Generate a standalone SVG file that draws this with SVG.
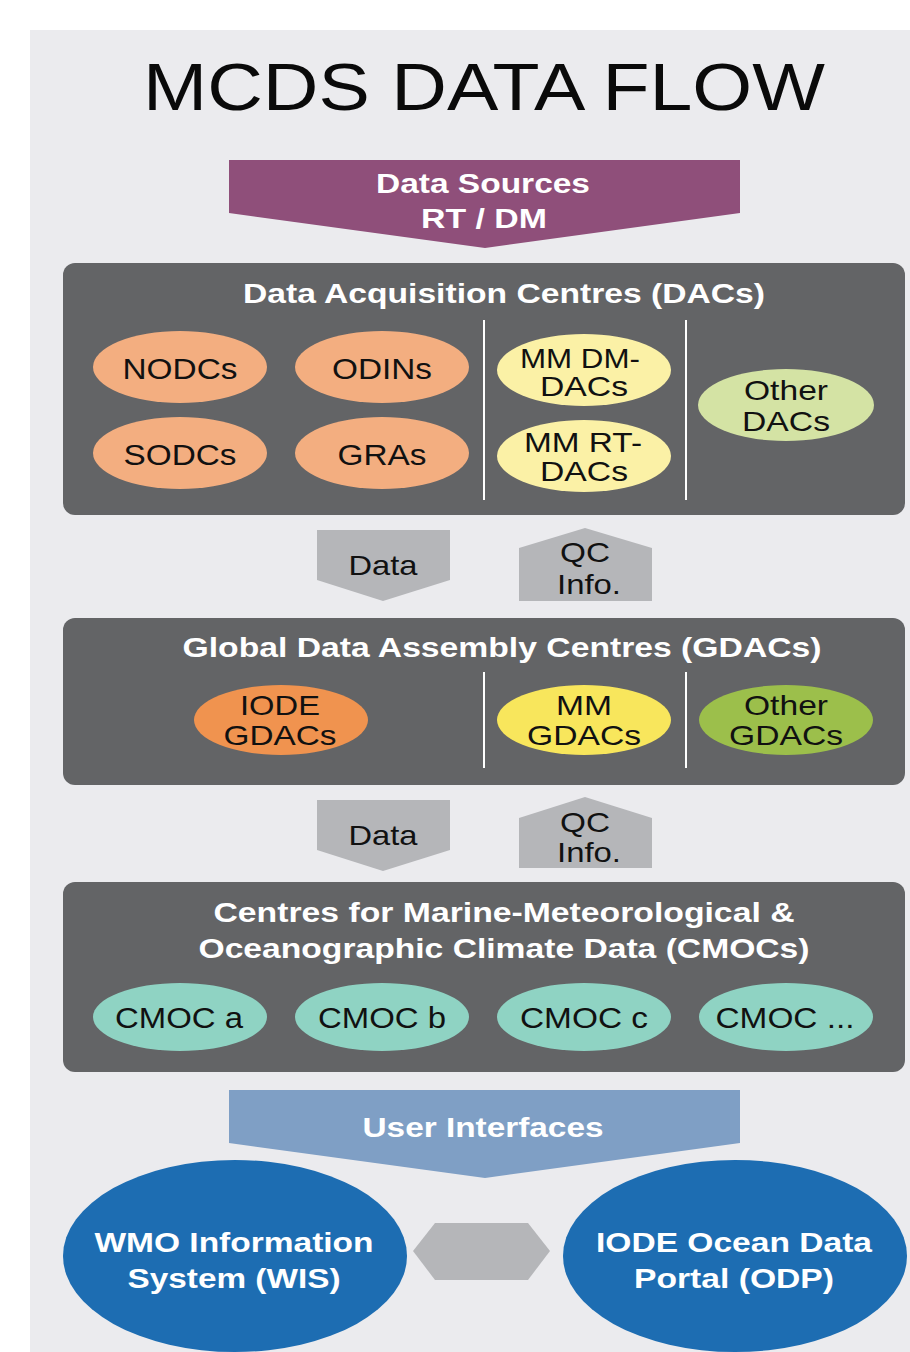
<svg xmlns="http://www.w3.org/2000/svg" width="910" height="1352" viewBox="0 0 910 1352">
<style>
.t{font-family:"Liberation Sans",Arial,sans-serif;text-anchor:middle}
.w{fill:#ffffff;font-weight:bold}
.b{fill:#111111}
.box{fill:#636466}
.sep{stroke:#ffffff;stroke-width:2}
.gr{fill:#b5b6b9}
</style>
<rect x="0" y="0" width="910" height="1352" fill="#ffffff"/>
<rect x="30" y="30" width="880" height="1322" fill="#ebebee"/>
<text class="t" x="484" y="110" font-size="66" fill="#0a0a0a" textLength="682" lengthAdjust="spacingAndGlyphs">MCDS DATA FLOW</text>

<g id="data-sources">
<path d="M229,160 H740 V213 L485,248 L229,213 Z" fill="#8f4f7a"/>
<text class="t w" x="483" y="193" font-size="27" textLength="214" lengthAdjust="spacingAndGlyphs">Data Sources</text>
<text class="t w" x="484" y="228" font-size="27" textLength="126" lengthAdjust="spacingAndGlyphs">RT / DM</text>
</g>

<g id="dacs">
<rect class="box" x="63" y="263" width="842" height="252" rx="12"/>
<text class="t w" x="504" y="303" font-size="28" textLength="522" lengthAdjust="spacingAndGlyphs">Data Acquisition Centres (DACs)</text>
<line class="sep" x1="484" y1="320" x2="484" y2="500"/>
<line class="sep" x1="686" y1="320" x2="686" y2="500"/>
</g>
<g id="nodcs"><ellipse cx="180" cy="367" rx="87" ry="36" fill="#f3ae80"/><text class="t b" x="180" y="379" font-size="29" textLength="115" lengthAdjust="spacingAndGlyphs">NODCs</text></g>
<g id="odins"><ellipse cx="382" cy="367" rx="87" ry="36" fill="#f3ae80"/><text class="t b" x="382" y="379" font-size="29" textLength="100" lengthAdjust="spacingAndGlyphs">ODINs</text></g>
<g id="sodcs"><ellipse cx="180" cy="453" rx="87" ry="36" fill="#f3ae80"/><text class="t b" x="180" y="465" font-size="29" textLength="113" lengthAdjust="spacingAndGlyphs">SODCs</text></g>
<g id="gras"><ellipse cx="382" cy="453" rx="87" ry="36" fill="#f3ae80"/><text class="t b" x="382" y="465" font-size="29" textLength="89" lengthAdjust="spacingAndGlyphs">GRAs</text></g>
<g id="mm-dm-dacs"><ellipse cx="584" cy="370" rx="87" ry="36" fill="#fbf1a6"/><text class="t b" x="580" y="368" font-size="28" textLength="120" lengthAdjust="spacingAndGlyphs">MM DM-</text><text class="t b" x="584" y="396" font-size="28" textLength="88" lengthAdjust="spacingAndGlyphs">DACs</text></g>
<g id="mm-rt-dacs"><ellipse cx="584" cy="456" rx="87" ry="36" fill="#fbf1a6"/><text class="t b" x="583" y="452" font-size="28" textLength="118" lengthAdjust="spacingAndGlyphs">MM RT-</text><text class="t b" x="584" y="481" font-size="28" textLength="88" lengthAdjust="spacingAndGlyphs">DACs</text></g>
<g id="other-dacs"><ellipse cx="786" cy="405" rx="88" ry="36" fill="#d4e3a4"/><text class="t b" x="786" y="400" font-size="28" textLength="84" lengthAdjust="spacingAndGlyphs">Other</text><text class="t b" x="786" y="431" font-size="28" textLength="88" lengthAdjust="spacingAndGlyphs">DACs</text></g>

<g id="gdacs">
<rect class="box" x="63" y="618" width="842" height="167" rx="12"/>
<text class="t w" x="502" y="657" font-size="28" textLength="639" lengthAdjust="spacingAndGlyphs">Global Data Assembly Centres (GDACs)</text>
<line class="sep" x1="484" y1="672" x2="484" y2="768"/>
<line class="sep" x1="686" y1="672" x2="686" y2="768"/>
</g>
<g id="iode-gdacs"><ellipse cx="281" cy="720" rx="87" ry="35" fill="#f0934f"/><text class="t b" x="280" y="715" font-size="28" textLength="80" lengthAdjust="spacingAndGlyphs">IODE</text><text class="t b" x="280" y="745" font-size="28" textLength="113" lengthAdjust="spacingAndGlyphs">GDACs</text></g>
<g id="mm-gdacs"><ellipse cx="584" cy="720" rx="87" ry="35" fill="#f8e65c"/><text class="t b" x="584" y="715" font-size="28" textLength="56" lengthAdjust="spacingAndGlyphs">MM</text><text class="t b" x="584" y="745" font-size="28" textLength="114" lengthAdjust="spacingAndGlyphs">GDACs</text></g>
<g id="other-gdacs"><ellipse cx="786" cy="720" rx="87" ry="35" fill="#9cbf4b"/><text class="t b" x="786" y="715" font-size="28" textLength="84" lengthAdjust="spacingAndGlyphs">Other</text><text class="t b" x="786" y="745" font-size="28" textLength="114" lengthAdjust="spacingAndGlyphs">GDACs</text></g>

<g id="cmocs">
<rect class="box" x="63" y="882" width="842" height="190" rx="12"/>
<text class="t w" x="504" y="922" font-size="28" textLength="581" lengthAdjust="spacingAndGlyphs">Centres for Marine-Meteorological &amp;</text>
<text class="t w" x="504" y="958" font-size="28" textLength="611" lengthAdjust="spacingAndGlyphs">Oceanographic Climate Data (CMOCs)</text>
</g>
<g id="cmoc-a"><ellipse cx="180" cy="1017" rx="87" ry="34" fill="#8fd3c3"/><text class="t b" x="179" y="1028" font-size="29" textLength="128" lengthAdjust="spacingAndGlyphs">CMOC a</text></g>
<g id="cmoc-b"><ellipse cx="382" cy="1017" rx="87" ry="34" fill="#8fd3c3"/><text class="t b" x="382" y="1028" font-size="29" textLength="128" lengthAdjust="spacingAndGlyphs">CMOC b</text></g>
<g id="cmoc-c"><ellipse cx="584" cy="1017" rx="87" ry="34" fill="#8fd3c3"/><text class="t b" x="584" y="1028" font-size="29" textLength="128" lengthAdjust="spacingAndGlyphs">CMOC c</text></g>
<g id="cmoc-more"><ellipse cx="786" cy="1017" rx="87" ry="34" fill="#8fd3c3"/><text class="t b" x="785" y="1028" font-size="29" textLength="139" lengthAdjust="spacingAndGlyphs">CMOC ...</text></g>

<g id="connectors">
<path class="gr" d="M317,530 H450 V580 L383,601 L317,580 Z"/>
<text class="t b" x="383" y="575" font-size="28" textLength="69" lengthAdjust="spacingAndGlyphs">Data</text>
<path class="gr" d="M519,601 V548 L585,528 L652,548 V601 Z"/>
<text class="t b" x="585" y="562" font-size="28" textLength="50" lengthAdjust="spacingAndGlyphs">QC</text>
<text class="t b" x="589" y="594" font-size="28" textLength="64" lengthAdjust="spacingAndGlyphs">Info.</text>
<path class="gr" d="M317,800 H450 V850 L383,871 L317,850 Z"/>
<text class="t b" x="383" y="845" font-size="28" textLength="69" lengthAdjust="spacingAndGlyphs">Data</text>
<path class="gr" d="M519,868 V818 L585,797 L652,818 V868 Z"/>
<text class="t b" x="585" y="832" font-size="28" textLength="50" lengthAdjust="spacingAndGlyphs">QC</text>
<text class="t b" x="589" y="862" font-size="28" textLength="64" lengthAdjust="spacingAndGlyphs">Info.</text>
<path class="gr" d="M413,1251 L435,1223 H528 L550,1251 L528,1280 H435 Z"/>
</g>

<g id="user-interfaces">
<path d="M229,1090 H740 V1143 L485,1178 L229,1143 Z" fill="#7f9fc5"/>
<text class="t w" x="483" y="1137" font-size="28" textLength="241" lengthAdjust="spacingAndGlyphs">User Interfaces</text>
</g>
<g id="wis">
<ellipse cx="235" cy="1256" rx="172" ry="96" fill="#1d6db2"/>
<text class="t w" x="234" y="1252" font-size="28" textLength="279" lengthAdjust="spacingAndGlyphs">WMO Information</text>
<text class="t w" x="234" y="1288" font-size="28" textLength="213" lengthAdjust="spacingAndGlyphs">System (WIS)</text>
</g>
<g id="odp">
<ellipse cx="735" cy="1256" rx="172" ry="96" fill="#1d6db2"/>
<text class="t w" x="734" y="1252" font-size="28" textLength="276" lengthAdjust="spacingAndGlyphs">IODE Ocean Data</text>
<text class="t w" x="734" y="1288" font-size="28" textLength="200" lengthAdjust="spacingAndGlyphs">Portal (ODP)</text>
</g>
</svg>
